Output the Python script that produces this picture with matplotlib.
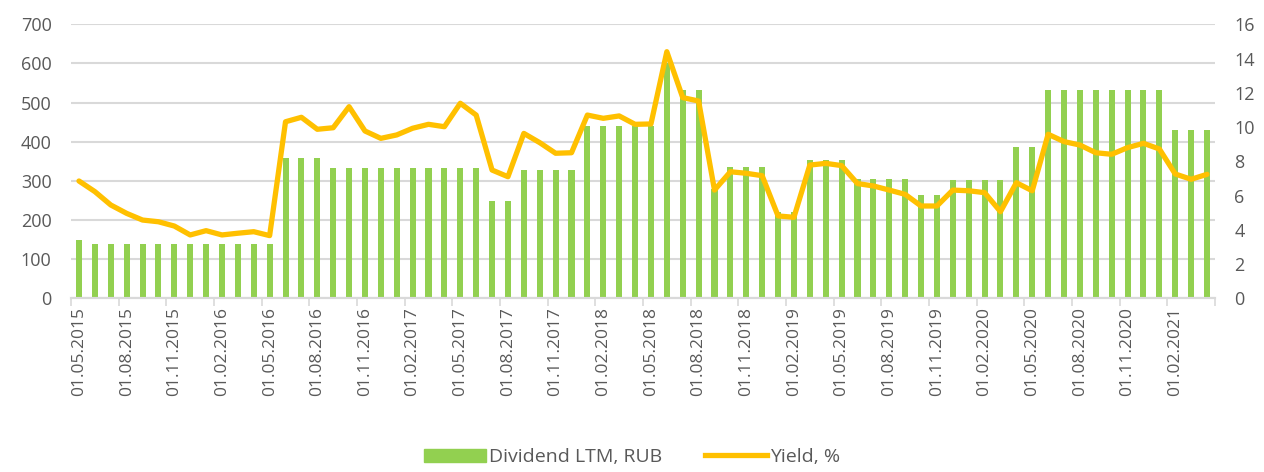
import numpy as np
import pandas as pd
import matplotlib
matplotlib.use("Agg")
import matplotlib.pyplot as plt
from matplotlib.lines import Line2D
from matplotlib.patches import Patch

# monthly data, 05.2015 - 04.2021
dates = pd.date_range("2015-05-01", "2021-04-01", freq="MS")
labels = [d.strftime("%d.%m.%Y") for d in dates]

dividend = [150] + [138] * 12 + [358] * 3 + [333] * 10 + [248] * 2 + [329] * 4 \
    + [440] * 5 + [600] + [531] * 2 + [280] + [335] * 3 + [220] * 2 + [353] * 3 \
    + [304] * 4 + [264] * 2 + [302] * 4 + [386] * 2 + [532] * 8 + [430] * 3

yield_pct = [6.85, 6.23, 5.45, 4.96, 4.57, 4.47, 4.22, 3.70, 3.95, 3.70, 3.80, 3.89,
             3.66, 10.31, 10.57, 9.87, 9.96, 11.19, 9.77, 9.34, 9.54, 9.93, 10.16,
             10.02, 11.39, 10.70, 7.49, 7.10, 9.63, 9.09, 8.47, 8.50, 10.70, 10.51,
             10.65, 10.16, 10.18, 14.40, 11.72, 11.52, 6.32, 7.39, 7.30, 7.16, 4.81,
             4.73, 7.78, 7.88, 7.75, 6.70, 6.56, 6.32, 6.07, 5.39, 5.39, 6.32, 6.28,
             6.17, 5.06, 6.75, 6.28, 9.58, 9.15, 8.95, 8.50, 8.41, 8.80, 9.05, 8.72,
             7.26, 6.95, 7.24]

green = "#92D050"
orange = "#FFC000"
grey = "#595959"
grid = "#D9D9D9"

plt.rcParams["font.family"] = ["Open Sans", "DejaVu Sans"]

fig = plt.figure(figsize=(12.64, 4.72), dpi=100)
ax = fig.add_axes([0.0562, 0.368, 0.905, 0.5805])
ax2 = ax.twinx()

x = np.arange(len(dates))
ax.bar(x, dividend, width=0.38, color=green, zorder=2)
ax2.plot(x, yield_pct, color=orange, lw=3.8, solid_joinstyle="round",
         solid_capstyle="round", zorder=3)

ax.set_xlim(-0.5, len(dates) - 0.5)
ax.set_ylim(0, 700)
ax.set_yticks(range(0, 701, 100))
ax2.set_ylim(0, 16)
ax2.set_yticks(range(0, 17, 2))

ax.yaxis.grid(True, color=grid, lw=1.5, zorder=0)
ax.set_axisbelow(True)

ax.set_xticks(x[::3])
ax.set_xticklabels(labels[::3], rotation=90)
ax.set_xticks(np.arange(-0.5, len(dates), 3), minor=True)
ax.tick_params(axis="x", which="major", length=0, pad=6, labelsize=12.5, labelcolor=grey)
ax.tick_params(axis="x", which="minor", length=6, color=grid, width=1.2)
ax.tick_params(axis="y", length=0, labelsize=13, labelcolor=grey, pad=14)
ax2.tick_params(axis="y", length=0, labelsize=13, labelcolor=grey, pad=14)

for a in (ax, ax2):
    for s in ("top", "left", "right"):
        a.spines[s].set_visible(False)
    a.spines["bottom"].set_color(grid)
    a.spines["bottom"].set_linewidth(1.5)

handles = [Patch(color=green, label="Dividend LTM, RUB"),
           Line2D([0], [0], color=orange, lw=3.8, label="Yield, %")]
fig.legend(handles=handles, loc="lower center", bbox_to_anchor=(0.5, -0.025), ncol=2,
           frameon=False, fontsize=14, labelcolor=grey, handlelength=3.2,
           handletextpad=0.15, columnspacing=2.2)

fig.savefig("out.png", dpi=100)
